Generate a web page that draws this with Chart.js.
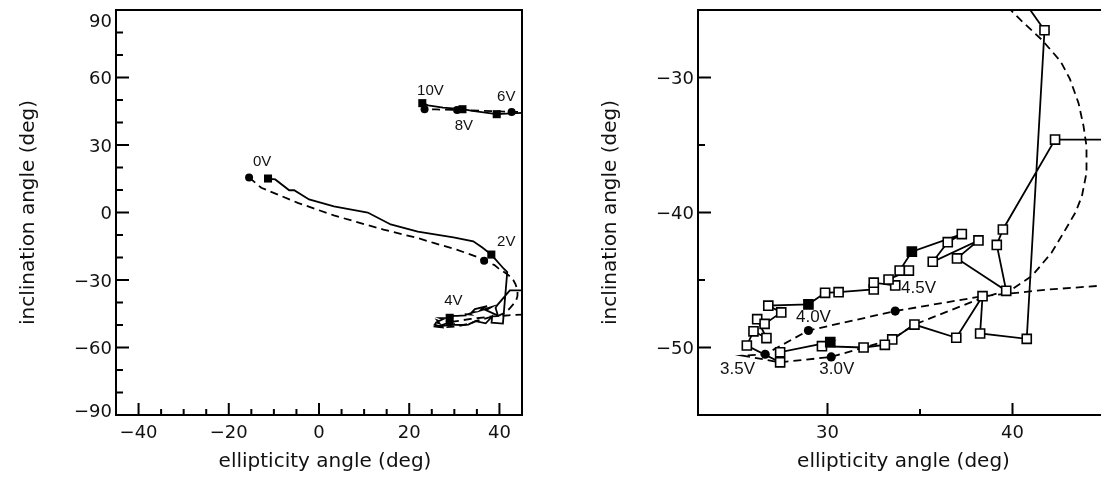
<!DOCTYPE html>
<html><head><meta charset="utf-8">
<script src="https://cdn.jsdelivr.net/npm/chart.js@4.4.1/dist/chart.umd.min.js"></script>
<style>
html,body{margin:0;padding:0;background:#fff;overflow:hidden;width:1101px;height:477px;position:relative;}
canvas{position:absolute;top:0;}
#c1{left:0px}
#c2{left:580px}
</style></head><body>
<canvas id="c1" width="540" height="477"></canvas>
<canvas id="c2" width="540" height="477"></canvas>
<script>
// ---------- data ----------
// experimental path (solid line)
const expX = [-11.3,-9.7,-6.6,-5.5,-2.2,3.3,10.8,15.9,21.9,29.8,34.2,36.2,38.2,40.96,41.73,40.77,38.25,38.38,36.96,34.7,33.5,33.1,31.95,29.7,30.15,27.44,27.44,25.64,26.0,26.7,26.2,26.6,27.5,26.8,28.97,29.87,30.6,32.5,32.5,33.66,33.3,34.4,33.9,34.56,37.26,36.5,35.69,38.16,37.0,39.66,39.15,39.48,42.3,47,null,47,39.4,34,31.8,27.5,24.2,22.9];
const expY = [15.1,14.7,9.9,9.9,5.8,2.7,0,-5.3,-8.5,-11.1,-12.8,-15.6,-18.7,-25.0,-26.5,-49.36,-48.96,-46.2,-49.28,-48.3,-49.4,-49.8,-50.0,-49.9,-49.6,-50.35,-51.1,-49.85,-48.8,-49.3,-47.9,-48.25,-47.4,-46.9,-46.8,-45.95,-45.9,-45.7,-45.2,-45.4,-44.96,-44.3,-44.3,-42.9,-41.6,-42.2,-43.65,-42.07,-43.4,-45.8,-42.4,-41.26,-34.6,-34.6,null,44.5,43.7,45.2,45.9,46.6,47.6,48.6];
// theoretical path (dashed line)
const theoX = [-15.5,-12.8,-4.7,3.3,14.3,21.8,25.4,30.5,35.0,36.6,38.9,39.78,40.6,41.58,42.6,43.1,43.57,43.84,44.0,44.0,43.75,43.4,42.76,42.1,41.05,39.96,38.4,34.7,33.5,31.95,30.2,27.44,25.4,26.63,28.97,33.66,38.38,42.0,45.0,47,null,47,42.7,36,30.6,26,23.4];
const theoY = [15.6,11.0,4.3,-1.3,-7.6,-11.3,-13.5,-16.5,-19.7,-21.4,-23.4,-24.84,-25.95,-27.2,-28.8,-30.1,-31.9,-33.6,-35.1,-37.06,-38.8,-40.0,-41.5,-43.0,-44.7,-45.7,-46.3,-48.3,-49.4,-50.0,-50.7,-51.1,-50.6,-50.5,-48.74,-47.3,-46.2,-45.7,-45.4,-45.3,null,44.8,44.7,45.2,45.6,45.8,45.9];
// left panel voltage markers
const leftVolts   = ['0V','2V','4V','6V','8V','10V'];
const leftCircX   = [-15.5,36.6,28.97,42.7,30.6,23.4];
const leftCircY   = [15.6,-21.4,-48.74,44.7,45.6,45.9];
const leftSqX     = [-11.3,38.2,28.97,39.4,31.8,22.9];
const leftSqY     = [15.1,-18.7,-46.8,43.7,45.9,48.6];
const leftLabX    = [-12.6,41.5,29.8,41.5,32.1,24.7];
const leftLabY    = [22.5,-13.1,-39.4,51.4,38.5,53.9];
// right panel voltage markers
const rightVolts  = ['3.0V','3.5V','4.0V','4.5V'];
const rightCircX  = [30.2,26.63,28.97,33.66];
const rightCircY  = [-50.7,-50.5,-48.74,-47.3];
const rightSqX    = [30.15,null,28.97,34.56];
const rightSqY    = [-49.6,null,-46.8,-42.9];
const rightLabX   = [30.5,25.14,29.24,34.92];
const rightLabY   = [-51.6,-51.6,-47.8,-45.6];
// axes
const leftXTicks  = [-40,-20,0,20,40];
const leftXMinor  = [-35,-30,-25,-15,-10,-5,5,10,15,25,30,35];
const leftYTicks  = [-90,-60,-30,0,30,60,90];
const leftYMinor  = [-80,-70,-50,-40,-20,-10,10,20,40,50,70,80];
const rightXTicks = [30,40];
const rightXMinor = [35];
const rightYTicks = [-50,-40,-30];
const rightYMinor = [-45,-35];
const xTitle = 'ellipticity angle (deg)';
const yTitle = 'inclination angle (deg)';

// ---------- helpers ----------
const pts = (xs, ys) => xs.map((x, i) => (x === null || ys[i] === null) ? {x: NaN, y: NaN} : {x: x, y: ys[i]});
const fmt = v => String(v).replace('-', '\u2212');
const FONT = '"DejaVu Sans", sans-serif';

function axesPlugin(cfg) {
  return {
    id: 'axesFrame',
    afterDraw(chart) {
      const {ctx, chartArea: a, scales: {x, y}} = chart;
      ctx.save();
      ctx.strokeStyle = '#000';
      ctx.lineWidth = 2;
      ctx.strokeRect(a.left, a.top, a.right - a.left, a.bottom - a.top);
      ctx.beginPath();
      cfg.xMajor.forEach(v => { const p = x.getPixelForValue(v); ctx.moveTo(p, a.bottom); ctx.lineTo(p, a.bottom - 12); });
      cfg.xMinor.forEach(v => { const p = x.getPixelForValue(v); ctx.moveTo(p, a.bottom); ctx.lineTo(p, a.bottom - 6); });
      cfg.yMajor.forEach(v => { const p = y.getPixelForValue(v); ctx.moveTo(a.left, p); ctx.lineTo(a.left + 13, p); });
      cfg.yMinor.forEach(v => { const p = y.getPixelForValue(v); ctx.moveTo(a.left, p); ctx.lineTo(a.left + 7, p); });
      ctx.stroke();
      // tick labels
      ctx.fillStyle = '#111';
      ctx.font = '18px ' + FONT;
      ctx.textBaseline = 'alphabetic';
      ctx.textAlign = 'center';
      cfg.xMajor.forEach(v => ctx.fillText(fmt(v), x.getPixelForValue(v), a.bottom + 23));
      ctx.textAlign = 'right';
      cfg.yMajor.forEach(v => {
        let p = y.getPixelForValue(v);
        p = Math.min(Math.max(p, a.top + 10), a.bottom - 5);
        ctx.fillText(fmt(v), a.left - 4, p + 6.5);
      });
      // axis titles
      ctx.font = '20px ' + FONT;
      ctx.textAlign = 'center';
      ctx.fillText(xTitle, (a.left + a.right) / 2 + cfg.titleShift, 467);
      ctx.save();
      ctx.translate(cfg.yTitleX, (a.top + a.bottom) / 2);
      ctx.rotate(-Math.PI / 2);
      ctx.fillText(yTitle, 0, 0);
      ctx.restore();
      // voltage labels
      ctx.font = cfg.labSize + 'px "Liberation Sans", sans-serif';
      ctx.textBaseline = 'middle';
      cfg.labels.forEach((t, i) => ctx.fillText(t, x.getPixelForValue(cfg.labX[i]), y.getPixelForValue(cfg.labY[i])));
      ctx.restore();
    }
  };
}

function makeChart(id, o) {
  const inRight = o.right;
  new Chart(document.getElementById(id), {
    type: 'scatter',
    data: {
      datasets: [
        { data: pts(o.circX, o.circY), pointStyle: 'circle', pointRadius: o.circR, backgroundColor: '#000', borderColor: '#000', borderWidth: 0, showLine: false },
        { data: pts(o.sqX, o.sqY), pointStyle: 'rect', pointRadius: o.sqR, backgroundColor: '#000', borderColor: '#000', borderWidth: 0, showLine: false },
        { data: pts(expX, expY), showLine: true, borderColor: '#000', borderWidth: 1.8, spanGaps: false,
          pointStyle: 'rect', backgroundColor: '#fff', pointBorderColor: '#000', pointBorderWidth: 1.6,
          pointRadius: inRight ? (c => { const r = c.raw; return (r && r.x >= 23 && r.x <= 45 && r.y < -25.6 && r.y > -55) ? 6.4 : 0; }) : 0 },
        { data: pts(theoX, theoY), showLine: true, borderColor: '#000', borderWidth: 1.8, borderDash: [8, 5], spanGaps: false, pointRadius: 0 }
      ]
    },
    options: {
      responsive: false, animation: false, events: [],
      layout: { padding: { top: 10, right: o.padRight, left: 0, bottom: 0 } },
      plugins: { legend: { display: false }, tooltip: { enabled: false } },
      scales: {
        x: { type: 'linear', min: o.xmin, max: o.xmax, grid: { display: false, drawTicks: false }, border: { display: false },
             ticks: { display: false }, afterFit: s => { s.height = 62; } },
        y: { type: 'linear', min: o.ymin, max: o.ymax, grid: { display: false, drawTicks: false }, border: { display: false },
             ticks: { display: false }, afterFit: s => { s.width = o.yw; } }
      }
    },
    plugins: [axesPlugin(o.axes)]
  });
}

makeChart('c1', {
  right: false, xmin: -45, xmax: 45, ymin: -90, ymax: 90, padRight: 18, yw: 116,
  circX: leftCircX, circY: leftCircY, sqX: leftSqX, sqY: leftSqY, circR: 4, sqR: 5.7,
  axes: { xMajor: leftXTicks, xMinor: leftXMinor, yMajor: leftYTicks, yMinor: leftYMinor, labSize: 15,
          titleShift: 6, yTitleX: 34, labels: leftVolts, labX: leftLabX, labY: leftLabY }
});
makeChart('c2', {
  right: true, xmin: 23, xmax: 45, ymin: -55, ymax: -25, padRight: 15, yw: 118,
  circX: rightCircX, circY: rightCircY, sqX: rightSqX, sqY: rightSqY, circR: 4.6, sqR: 6.4,
  axes: { xMajor: rightXTicks, xMinor: rightXMinor, yMajor: rightYTicks, yMinor: rightYMinor, labSize: 17,
          titleShift: 2, yTitleX: 36, labels: rightVolts, labX: rightLabX, labY: rightLabY }
});
</script>
</body></html>
